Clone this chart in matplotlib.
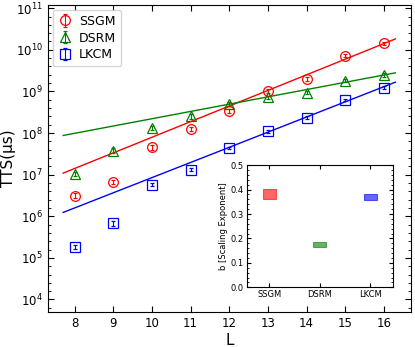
import numpy as np
import matplotlib
matplotlib.use('Agg')
import matplotlib.pyplot as plt
from matplotlib.ticker import AutoMinorLocator, FixedLocator

# system sizes
L = [8, 9, 10, 11, 12, 13, 14, 15, 16]

# time to solution in microseconds
tts_ssgm = [3.1e6, 6.8e6, 4.5e7, 1.25e8, 3.4e8, 1.04e9, 2.0e9, 7.2e9, 1.42e10]
tts_dsrm = [1.06e7, 3.8e7, 1.32e8, 2.5e8, 5.0e8, 7.2e8, 9.4e8, 1.8e9, 2.5e9]
tts_lkcm = [1.8e5, 6.7e5, 5.75e6, 1.32e7, 4.4e7, 1.1e8, 2.33e8, 6.3e8, 1.24e9]

# errors on log10(TTS)
err_ssgm = [0.06, 0.05, 0.05, 0.05, 0.05, 0.05, 0.05, 0.04, 0.04]
err_dsrm = [0.05, 0.05, 0.05, 0.05, 0.04, 0.04, 0.04, 0.04, 0.04]
err_lkcm = [0.05, 0.05, 0.03, 0.03, 0.03, 0.03, 0.03, 0.03, 0.03]

# fitted scaling: log10(TTS) = b*L + c
methods = ['SSGM', 'DSRM', 'LKCM']
fit_b = [0.375, 0.175, 0.364]
fit_c = [4.149, 6.594, 3.289]
fit_range = [7.7, 16.3]

# scaling exponent with uncertainty (inset)
b_val = [0.383, 0.1745, 0.370]
b_err = [0.021, 0.0095, 0.0115]

colors = ['red', 'green', 'blue']
markers = ['o', '^', 's']

fig = plt.figure(figsize=(4.15, 3.47), dpi=100)
ax = fig.add_axes([0.115, 0.101, 0.875, 0.885])

series = [tts_ssgm, tts_dsrm, tts_lkcm]
errs = [err_ssgm, err_dsrm, err_lkcm]
xf = np.array(fit_range)
for i in range(3):
    ax.errorbar(L, np.log10(series[i]), yerr=errs[i], fmt=markers[i], color=colors[i],
                mfc='none', mec=colors[i], ms=7, mew=0.9, capsize=1.5, elinewidth=0.8,
                capthick=0.8, label=methods[i])
    ax.plot(xf, fit_b[i] * xf + fit_c[i], color=colors[i], lw=1)

ax.set_xlim(7.3, 16.7)
ax.set_ylim(3.7, 11.08)
ax.set_xticks(L)
ax.yaxis.set_major_locator(FixedLocator(range(4, 12)))
ax.set_yticklabels([r'$10^{%d}$' % n for n in range(4, 12)])
ax.yaxis.set_minor_locator(AutoMinorLocator(5))
ax.tick_params(which='both', direction='in', top=True, right=True, labelsize=8.5)
ax.tick_params(which='major', length=4)
ax.tick_params(which='minor', length=2)
ax.set_xlabel('L', fontsize=11, labelpad=2)
ax.set_ylabel('TTS(μs)', fontsize=11)
ax.yaxis.set_label_coords(-0.087, 0.5)
ax.legend(loc='upper left', fontsize=9, handlelength=1.2, handletextpad=0.5,
          borderaxespad=0.4, labelspacing=0.3)

# inset with scaling exponents
axi = fig.add_axes([0.594, 0.172, 0.353, 0.352])
xi = np.arange(3)
for i in range(3):
    axi.bar(xi[i], 2 * b_err[i], bottom=b_val[i] - b_err[i], width=0.25,
            color=colors[i], alpha=0.6, edgecolor=colors[i], linewidth=0.8)
axi.set_xlim(-0.45, 2.45)
axi.set_ylim(0, 0.5)
axi.set_xticks(xi)
axi.set_xticklabels(methods)
axi.yaxis.set_minor_locator(AutoMinorLocator(5))
axi.tick_params(which='both', direction='in', top=True, right=True, labelsize=6, pad=2)
axi.tick_params(which='major', length=3)
axi.tick_params(which='minor', length=1.5)
axi.set_ylabel('b [Scaling Exponent]', fontsize=6, labelpad=2)

fig.savefig('out.png', dpi=100)
